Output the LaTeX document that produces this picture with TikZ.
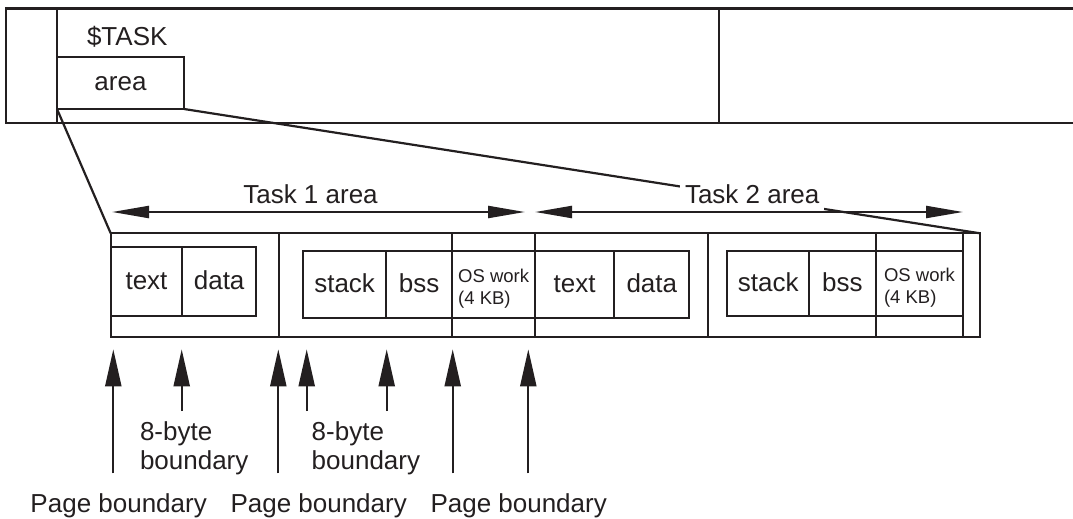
\documentclass[tikz,border=0pt]{standalone}
\usepackage{fontspec}
\setmainfont{Liberation Sans}
\usetikzlibrary{arrows.meta}
\definecolor{ink}{HTML}{231F20}
\begin{document}
\begin{tikzpicture}[x=1pt, y=-1pt, line width=2.2pt,
  every node/.style={inner sep=0pt, outer sep=0pt, text=ink},
  big/.style={font=\fontsize{26}{29.3}\selectfont},
  seg/.style={draw=ink, minimum height=103.4pt},
  cell/.style={draw=ink, big, text height=18.7pt, text depth=3.1pt},
  oscell/.style={draw=ink, align=left, font=\fontsize{18.5}{21.6}\selectfont},
  harrow/.style={draw=ink, {Triangle[length=37pt,width=12pt]}-{Triangle[length=37pt,width=12pt]}},
  varrow/.style={draw=ink, -{Triangle[length=37pt,width=16pt]}}]
\useasboundingbox (0,0) rectangle (1073,519);

% memory band at the top
\draw[ink] (1080,8.5) -- (6.3,8.5) -- (6.3,123) -- (1080,123);
\draw[ink] (56.7,8.5) -- (56.7,123);
\draw[ink] (719,8.5) -- (719,123);
\node[big, anchor=base west] (tasklbl) at (87,45.5) {\$TASK};
\node[cell, minimum width=127pt, minimum height=52pt] (area) at (120.5,83) {area\hspace{5pt}};

% page-aligned segments of the expanded area
\node[seg, minimum width=168.6pt] (seg1) at (195,285) {};
\node[seg, minimum width=173pt]   (seg2) at (365.8,285) {};
\node[seg, minimum width=82.7pt]  (seg3) at (493.65,285) {};
\node[seg, minimum width=173.3pt] (seg4) at (621.65,285) {};
\node[seg, minimum width=167.4pt] (seg5) at (792,285) {};
\node[seg, minimum width=87.6pt]  (seg6) at (919.5,285) {};
\node[seg, minimum width=16.7pt]  (seg7) at (971.65,285) {};

% Task 1 sections
\node[cell, minimum width=71.6pt, minimum height=68.7pt] (t1text) at (146.5,281.65) {text};
\node[cell, minimum width=73.7pt, minimum height=68.7pt] (t1data) at (219.15,281.65) {data};
\node[cell, minimum width=82.7pt, minimum height=67.3pt] (t1stack) at (344.65,284.65) {stack};
\node[cell, minimum width=66.3pt, minimum height=67.3pt] (t1bss) at (419.15,284.65) {bss};
\node[oscell, minimum width=82.7pt, minimum height=67.3pt] (t1os) at (493.65,284.65) {\rule{0pt}{22pt}OS work\\(4 KB)};

% Task 2 sections
\node[cell, minimum width=79.3pt, minimum height=66.7pt] (t2text) at (574.65,284.35) {text};
\node[cell, minimum width=75pt, minimum height=66.7pt] (t2data) at (651.8,284.35) {data};
\node[cell, minimum width=81.7pt, minimum height=65pt] (t2stack) at (768.15,283.2) {stack};
\node[cell, minimum width=66.7pt, minimum height=65pt] (t2bss) at (842.35,283.2) {bss};
\node[oscell, minimum width=87.6pt, minimum height=65pt] (t2os) at (919.5,283.2) {\rule{0pt}{22pt}OS work\\(4 KB)};

% expansion lines from the area box
\draw[ink] (area.south west) -- (seg1.north west);
\draw[ink] (area.south east) -- (seg7.north east);

% extent labels and arrows
\node[big, anchor=base west] (t1lbl) at (243.3,203.3) {Task 1 area};
\node[big, anchor=base west, fill=white, inner xsep=5pt, inner ysep=6pt] (t2lbl) at (680,203.3) {Task 2 area};
\coordinate (a1l) at (112,212);
\coordinate (a1r) at (525,212);
\coordinate (a2l) at (535,212);
\coordinate (a2r) at (963,212);
\draw[harrow] (a1l) -- (a1r);
\draw[harrow] (a2l) -- (a2r);

% boundary markers
\foreach \n/\x/\yb in {p1/113.3/473.3, b1/181.7/411, p2/278.3/473.3, b2/306.7/411,
                      b3/386.7/411, p3/452.7/473.3, p4/528.3/473.3} {
  \coordinate (\n top) at (\x,349.3);
  \coordinate (\n bot) at (\x,\yb);
  \draw[varrow] (\n bot) -- (\n top);
}
\node[big, align=left, anchor=base west] (byte1) at (140,469.3) {8-byte\\boundary};
\node[big, align=left, anchor=base west] (byte2) at (311.7,469.3) {8-byte\\boundary};
\node[big, anchor=base west] (page1) at (30.5,512.5) {Page boundary};
\node[big, anchor=base west] (page2) at (230.5,512.5) {Page boundary};
\node[big, anchor=base west] (page3) at (430.5,512.5) {Page boundary};
\end{tikzpicture}
\end{document}
